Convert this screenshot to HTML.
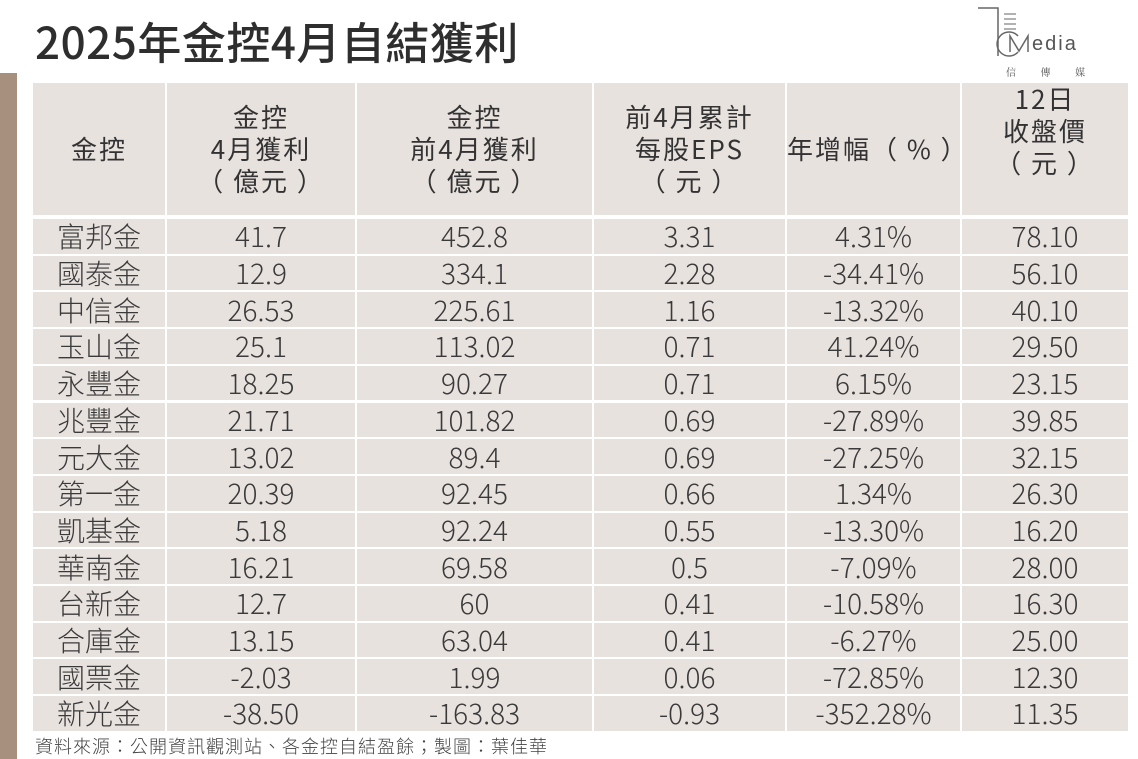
<!DOCTYPE html><html><head><meta charset="utf-8"><style>
body{margin:0;width:1138px;height:759px;background:#fff;position:relative;overflow:hidden;font-family:"Noto Sans CJK TC",sans-serif;color:#333}
.c{position:absolute;background:#e8e2df;display:flex;align-items:center;justify-content:center;text-align:center;font-size:28px;color:#3a3a3a;font-weight:300}
.h{font-size:26px;line-height:32px;color:#333;font-weight:400;letter-spacing:2px}
</style></head><body>
<div style="position:absolute;left:0;top:73px;width:17px;height:686px;background:#a8907e"></div>
<div style="position:absolute;left:35px;top:10px;font-size:44px;font-weight:500;color:#2e2e2e;line-height:60px;letter-spacing:0.5px">2025年金控4月自結獲利</div>
<div style="position:absolute;left:978px;top:6px;width:140px;height:72px;color:#555">
<svg width="140" height="72"><path d="M0 2H20V50" stroke="#666" fill="none" stroke-width="1.5"/><path d="M26 8h12M26 13h12M26 18h12M26 23h12" stroke="#666"/><path d="M40 30a12 12 0 1 0 0 16" stroke="#666" fill="none" stroke-width="1.5"/><path d="M32 46V30l9 15l9-15v16" stroke="#666" fill="none" stroke-width="1.5"/></svg>
<div style="position:absolute;left:54px;top:27px;font-size:20px;letter-spacing:2px;font-family:'Liberation Sans',sans-serif">edia</div>
<div style="position:absolute;left:28px;top:58px;font-size:10px;word-spacing:22px;font-family:'Noto Serif CJK SC',serif">信 傳 媒</div>
</div>
<div id="t"></div>
<div style="position:absolute;left:35px;top:733px;font-size:18px;color:#444;letter-spacing:1px;font-weight:300">資料來源：公開資訊觀測站、各金控自結盈餘；製圖：葉佳華</div>
<script>
var L=[[33,132],[167,188],[357,235],[594,191],[787,173],[962,166]];
var H=["金控","金控<br>4月獲利<br>（ 億元 ）","金控<br>前4月獲利<br>（ 億元 ）","前4月累計<br>每股EPS<br>（ 元 ）","年增幅（ % ）","12日<br>收盤價<br>（ 元 ）"];
var R=[["富邦金","41.7","452.8","3.31","4.31%","78.10"],["國泰金","12.9","334.1","2.28","-34.41%","56.10"],["中信金","26.53","225.61","1.16","-13.32%","40.10"],["玉山金","25.1","113.02","0.71","41.24%","29.50"],["永豐金","18.25","90.27","0.71","6.15%","23.15"],["兆豐金","21.71","101.82","0.69","-27.89%","39.85"],["元大金","13.02","89.4","0.69","-27.25%","32.15"],["第一金","20.39","92.45","0.66","1.34%","26.30"],["凱基金","5.18","92.24","0.55","-13.30%","16.20"],["華南金","16.21","69.58","0.5","-7.09%","28.00"],["台新金","12.7","60","0.41","-10.58%","16.30"],["合庫金","13.15","63.04","0.41","-6.27%","25.00"],["國票金","-2.03","1.99","0.06","-72.85%","12.30"],["新光金","-38.50","-163.83","-0.93","-352.28%","11.35"]];
var s="";
for(var j=0;j<6;j++)s+='<div class="c h" style="left:'+L[j][0]+'px;top:83px;width:'+L[j][1]+'px;height:132px;'+(j==5?'align-items:flex-start':'')+'">'+H[j]+'</div>';
for(var i=0;i<14;i++){var y=219+i*36.7;for(var j=0;j<6;j++)s+='<div class="c" style="left:'+L[j][0]+'px;top:'+y+'px;width:'+L[j][1]+'px;height:34.7px">'+R[i][j]+'</div>';}
document.getElementById("t").innerHTML=s;
</script>
</body></html>
